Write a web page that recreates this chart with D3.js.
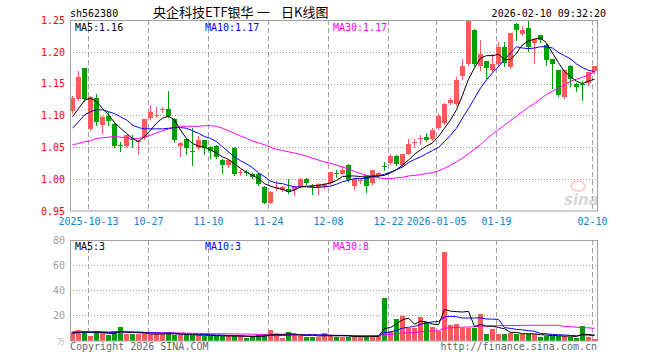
<!DOCTYPE html>
<html>
<head>
<meta charset="utf-8">
<script src="https://cdn.jsdelivr.net/npm/d3@7"></script>
<style>
body{margin:0;background:#fff}
text{font-family:"DejaVu Sans Mono",monospace;font-size:10px}
</style>
</head>
<body>
<svg id="chart" width="660" height="360"></svg>
<script>
// trading days shown (88 candles)
const dates = [
 "2025-09-30","2025-10-09","2025-10-10",
 "2025-10-13","2025-10-14","2025-10-15","2025-10-16","2025-10-17",
 "2025-10-20","2025-10-21","2025-10-22","2025-10-23","2025-10-24",
 "2025-10-27","2025-10-28","2025-10-29","2025-10-30","2025-10-31",
 "2025-11-03","2025-11-04","2025-11-05","2025-11-06","2025-11-07",
 "2025-11-10","2025-11-11","2025-11-12","2025-11-13","2025-11-14",
 "2025-11-17","2025-11-18","2025-11-19","2025-11-20","2025-11-21",
 "2025-11-24","2025-11-25","2025-11-26","2025-11-27","2025-11-28",
 "2025-12-01","2025-12-02","2025-12-03","2025-12-04","2025-12-05",
 "2025-12-08","2025-12-09","2025-12-10","2025-12-11","2025-12-12",
 "2025-12-15","2025-12-16","2025-12-17","2025-12-18","2025-12-19",
 "2025-12-22","2025-12-23","2025-12-24","2025-12-25","2025-12-26",
 "2025-12-29","2025-12-30","2025-12-31",
 "2026-01-05","2026-01-06","2026-01-07","2026-01-08","2026-01-09",
 "2026-01-12","2026-01-13","2026-01-14","2026-01-15","2026-01-16",
 "2026-01-19","2026-01-20","2026-01-21","2026-01-22","2026-01-23",
 "2026-01-26","2026-01-27","2026-01-28","2026-01-29","2026-01-30",
 "2026-02-02","2026-02-03","2026-02-04","2026-02-05","2026-02-06",
 "2026-02-09","2026-02-10"
];

const open = [
 1.106,1.126,1.174,1.079,1.127,1.085,1.099,1.087,1.053,1.052,
 1.063,1.058,1.064,1.096,1.099,1.109,1.110,1.094,1.052,1.063,
 1.045,1.049,1.061,1.051,1.052,1.030,1.022,1.049,1.010,1.011,
 1.008,1.008,0.988,0.963,0.987,0.983,0.985,0.983,0.988,1.001,
 0.991,0.989,0.988,0.993,1.010,1.009,1.023,0.990,0.997,1.006,
 0.994,1.005,1.021,1.025,1.037,1.022,1.041,1.058,1.062,1.066,
 1.063,1.080,1.088,1.119,1.118,1.163,1.181,1.234,1.177,1.185,
 1.172,1.181,1.207,1.176,1.243,1.227,1.238,1.213,1.226,1.211,
 1.188,1.171,1.129,1.178,1.150,1.149,1.150,1.169
];
const high = [
 1.131,1.170,1.174,1.131,1.134,1.099,1.106,1.089,1.059,1.070,
 1.069,1.062,1.095,1.117,1.114,1.114,1.139,1.096,1.058,1.064,
 1.080,1.068,1.062,1.052,1.053,1.031,1.031,1.050,1.015,1.014,
 1.009,1.010,0.989,0.981,0.997,0.990,1.001,0.989,1.002,1.002,
 0.993,0.994,0.994,1.012,1.015,1.020,1.024,1.002,1.001,1.007,
 1.015,1.012,1.027,1.040,1.038,1.040,1.063,1.063,1.069,1.073,
 1.081,1.102,1.119,1.127,1.160,1.189,1.251,1.236,1.218,1.186,
 1.196,1.215,1.215,1.230,1.246,1.240,1.250,1.221,1.227,1.212,
 1.189,1.172,1.172,1.179,1.151,1.154,1.169,1.178
];
const low = [
 1.104,1.124,1.123,1.077,1.085,1.072,1.085,1.050,1.045,1.050,
 1.050,1.040,1.063,1.095,1.098,1.106,1.098,1.059,1.036,1.040,
 1.022,1.047,1.040,1.033,1.033,1.010,1.019,1.006,1.006,1.006,
 1.002,0.991,0.962,0.962,0.983,0.981,0.978,0.975,0.987,0.992,
 0.977,0.976,0.986,0.992,1.004,1.008,0.997,0.985,0.994,0.980,
 0.993,1.003,1.014,1.024,1.022,1.021,1.039,1.051,1.056,1.060,
 1.062,1.079,1.087,1.118,1.117,1.157,1.180,1.177,1.172,1.159,
 1.169,1.180,1.177,1.175,1.219,1.226,1.201,1.182,1.216,1.180,
 1.143,1.130,1.128,1.146,1.138,1.124,1.148,1.167
];
const close = [
 1.127,1.161,1.125,1.129,1.089,1.098,1.091,1.052,1.051,1.069,
 1.061,1.060,1.094,1.106,1.100,1.110,1.099,1.061,1.057,1.049,
 1.044,1.061,1.048,1.045,1.035,1.022,1.030,1.008,1.011,1.010,
 1.004,0.993,0.963,0.980,0.988,0.987,0.980,0.988,1.001,0.994,
 0.990,0.993,0.993,1.011,1.009,1.015,0.999,1.001,0.998,0.988,
 1.014,1.010,1.020,1.036,1.024,1.039,1.056,1.059,1.064,1.062,
 1.077,1.099,1.118,1.124,1.156,1.178,1.250,1.180,1.196,1.174,
 1.181,1.207,1.182,1.229,1.234,1.234,1.208,1.220,1.218,1.188,
 1.180,1.131,1.171,1.157,1.146,1.148,1.168,1.177
];

const ma5 = [
 1.098,1.111,1.124,1.127,1.122,1.111,1.101,1.089,1.080,1.072,
 1.064,1.059,1.067,1.077,1.088,1.096,1.099,1.093,1.077,1.064,
 1.056,1.052,1.050,1.046,1.041,1.035,1.031,1.024,1.017,1.011,
 1.006,1.001,0.993,0.989,0.986,0.984,0.980,0.983,0.988,0.989,
 0.989,0.990,0.992,0.994,0.998,1.004,1.005,1.005,1.004,1.003,
 1.005,1.005,1.006,1.010,1.015,1.022,1.030,1.039,1.046,1.052,
 1.057,1.067,1.080,1.093,1.109,1.132,1.157,1.175,1.190,1.194,
 1.194,1.196,1.188,1.188,1.198,1.211,1.217,1.220,1.222,1.214,
 1.198,1.183,1.169,1.161,1.154,1.150,1.154,1.157
];
const ma10 = [
 1.080,1.090,1.101,1.106,1.109,1.109,1.106,1.103,1.098,1.093,
 1.085,1.081,1.079,1.079,1.079,1.079,1.080,1.081,1.081,1.080,
 1.076,1.072,1.067,1.064,1.059,1.051,1.043,1.035,1.029,1.024,
 1.018,1.010,1.004,0.997,0.994,0.993,0.990,0.988,0.988,0.988,
 0.987,0.987,0.988,0.989,0.992,0.996,0.998,1.001,1.001,1.001,
 1.004,1.005,1.008,1.011,1.015,1.019,1.026,1.031,1.035,1.040,
 1.045,1.050,1.059,1.069,1.080,1.096,1.111,1.127,1.143,1.156,
 1.167,1.177,1.188,1.198,1.208,1.206,1.205,1.206,1.208,1.208,
 1.206,1.199,1.194,1.189,1.181,1.175,1.171,1.169
];
const ma30 = [
 1.054,1.056,1.059,1.060,1.064,1.065,1.066,1.067,1.066,1.065,
 1.064,1.064,1.066,1.069,1.073,1.076,1.079,1.081,1.083,1.083,
 1.083,1.083,1.084,1.084,1.083,1.080,1.076,1.072,1.068,1.064,
 1.060,1.057,1.054,1.050,1.047,1.045,1.043,1.041,1.039,1.036,
 1.033,1.030,1.027,1.025,1.022,1.019,1.016,1.012,1.009,1.006,
 1.004,1.002,1.001,1.001,1.002,1.003,1.005,1.006,1.007,1.009,
 1.010,1.013,1.017,1.022,1.027,1.033,1.040,1.047,1.054,1.063,
 1.071,1.078,1.085,1.092,1.099,1.106,1.113,1.119,1.126,1.133,
 1.138,1.143,1.148,1.154,1.157,1.160,1.164,1.168
];

// volume, 万
const vol = [
 6.7,8.0,6.7,3.5,7.2,5.3,4.0,7.2,10.4,4.8,
 4.8,4.5,5.3,4.8,4.8,4.8,5.9,4.0,4.0,4.0,
 4.0,4.0,3.2,3.2,3.2,3.2,3.2,3.2,3.2,1.9,
 2.4,4.0,4.5,8.0,4.5,1.3,6.4,4.5,3.5,2.7,
 2.7,2.7,5.6,3.2,2.7,2.7,2.7,2.7,3.2,2.4,
 3.2,3.2,33.9,7.2,16.8,19.5,9.9,9.9,18.7,14.7,
 10.7,7.2,70.7,12.0,12.8,9.3,9.9,9.9,20.8,5.1,
 9.1,5.1,5.1,5.9,5.1,4.5,4.5,4.5,2.7,3.2,
 3.2,3.2,3.2,2.7,1.9,11.5,2.7,0.5
];
const vma5 = [
 5.5,6.0,6.5,6.3,6.4,6.1,5.3,5.4,6.8,6.3,
 6.2,6.3,6.0,4.8,4.8,4.8,5.1,4.9,4.7,4.5,
 4.4,4.0,3.8,3.7,3.5,3.4,3.2,3.2,3.2,2.9,
 2.8,2.9,3.2,4.2,4.7,4.5,4.9,4.9,4.0,3.7,
 4.0,3.2,3.4,3.4,3.4,3.4,3.4,2.8,2.8,2.7,
 2.8,2.9,9.2,10.0,12.9,16.1,17.5,12.7,15.0,14.5,
 12.8,12.2,24.4,23.1,22.7,22.4,22.9,10.8,12.5,11.0,
 11.0,10.0,9.0,6.1,6.1,5.1,5.0,4.9,4.3,3.9,
 3.6,3.4,3.1,3.1,2.8,4.5,4.4,3.9
];
const vma10 = [
 5.8,6.0,6.1,6.0,6.2,6.2,6.0,6.1,6.6,6.4,
 6.2,5.8,5.7,5.8,5.6,5.5,5.7,5.4,4.8,4.7,
 4.6,4.6,4.4,4.2,4.0,3.9,3.6,3.5,3.4,3.2,
 3.1,3.1,3.2,3.7,3.8,3.6,3.9,4.1,4.1,4.2,
 4.2,4.1,4.2,3.7,3.5,3.7,3.3,3.1,3.1,3.1,
 3.1,3.2,6.0,6.4,7.8,9.5,10.2,10.9,12.5,13.7,
 14.5,14.9,18.5,19.0,18.6,17.6,17.6,17.6,17.8,16.8,
 16.7,16.5,9.9,9.3,8.5,8.1,7.5,7.0,5.2,5.0,
 4.4,4.2,4.0,3.7,3.4,4.1,3.9,3.5
];
const vma30 = [
 6.8,6.8,6.8,6.7,6.7,6.6,6.5,6.5,6.5,6.4,
 6.3,6.2,6.1,6.0,5.9,5.8,5.8,5.7,5.6,5.5,
 5.4,5.3,5.2,5.1,5.0,5.0,4.9,4.9,4.8,4.8,
 4.6,4.5,4.4,4.6,4.5,4.3,4.4,4.3,4.1,4.0,
 4.0,3.9,3.9,3.9,3.8,3.7,3.6,3.6,3.5,3.5,
 3.5,3.4,4.5,4.6,5.0,5.6,5.8,6.0,6.6,7.0,
 7.3,7.4,9.6,9.7,10.0,10.2,10.4,10.5,11.1,11.2,
 11.4,11.5,11.5,11.6,11.6,11.7,11.8,11.8,11.8,11.8,
 11.8,11.8,10.8,10.7,10.2,9.9,9.7,9.3
];

const tickDates = ["2025-10-13","2025-10-27","2025-11-10","2025-11-24","2025-12-08",
                   "2025-12-22","2026-01-05","2026-01-19","2026-02-10"];
const tickText = ["2025-10-13","10-27","11-10","11-24","12-08",
                  "12-22","2026-01-05","01-19","02-10"];
const priceTicks = [0.95,1.00,1.05,1.10,1.15,1.20,1.25];
const volTicks = [20,40,60,80];

const RED = "#ff5a5a", GREEN = "#00a000", FRAME = "#a0a0a0";

const svg = d3.select("#chart");

const left = 70, right = 598;
const x = d3.scaleBand().domain(dates).range([left, right]);
const y = d3.scaleLinear().domain([0.95, 1.25]).range([211, 20]);
const yv = d3.scaleLinear().domain([0, 80]).range([340, 240]);
const cx = d => Math.round(x(d)) + 2.5;
const px = v => Math.round(v) + 0.5;

const idx = d3.range(dates.length);
const isUp = i => close[i] >= open[i];

// header texts
svg.append("text").attr("x", 70).attr("y", 17).text("sh562380");
const cjk = "'Noto Sans CJK SC'";
[["央企科技ETF银华", 153], ["一", 257], ["日K线图", 281]].forEach(([t, tx]) => {
  svg.append("text").attr("x", tx).attr("y", 17)
   .style("font-family", cjk).style("font-size", "13px").text(t);
});
svg.append("text").attr("x", 606).attr("y", 17).attr("text-anchor", "end")
   .text("2026-02-10 09:32:20");

// ---------- price panel ----------
const gPrice = svg.append("g");

// dotted horizontal grid
gPrice.selectAll("line.hg").data(priceTicks.slice(1, -1)).enter().append("line")
   .attr("x1", left).attr("x2", 597)
   .attr("y1", d => px(y(d))).attr("y2", d => px(y(d)))
   .attr("stroke", FRAME).attr("stroke-dasharray", "1,2");

// dashed vertical grid at the date ticks
[[gPrice, 20, 211], [svg, 240, 340]].forEach(([g, t, b]) => {
  g.selectAll(null).data(tickDates).enter().append("line")
   .attr("x1", d => Math.round(x(d)) + 0.5).attr("x2", d => Math.round(x(d)) + 0.5)
   .attr("y1", t).attr("y2", b)
   .attr("stroke", FRAME).attr("stroke-dasharray", "5,3");
});

// candles
svg.append("clipPath").attr("id", "pclip")
   .append("rect").attr("x", left).attr("y", 20).attr("width", 528).attr("height", 191);
const gCandle = gPrice.append("g").attr("clip-path", "url(#pclip)")
   .attr("shape-rendering", "crispEdges");

gCandle.selectAll("line.wick").data(idx).enter().append("line")
   .attr("x1", i => cx(dates[i])).attr("x2", i => cx(dates[i]))
   .attr("y1", i => Math.round(y(high[i]))).attr("y2", i => Math.round(y(low[i])) + 1)
   .attr("stroke", i => isUp(i) ? RED : GREEN);

gCandle.selectAll("rect.body").data(idx).enter().append("rect")
   .attr("x", i => Math.round(x(dates[i])))
   .attr("width", 5)
   .attr("y", i => Math.round(y(Math.max(open[i], close[i]))))
   .attr("height", i => Math.max(1, Math.round(Math.abs(y(open[i]) - y(close[i])))))
   .attr("fill", i => isUp(i) ? RED : GREEN);

// MA lines
const priceLine = arr => d3.line().x((v, i) => cx(dates[i])).y(v => y(v))(arr);
[[ma30, "#ff00ff"], [ma10, "#0000ff"], [ma5, "#000000"]].forEach(([arr, c]) => {
  gPrice.append("path").attr("d", priceLine(arr))
   .attr("fill", "none").attr("stroke", c).attr("stroke-width", 1);
});

// sina mark
const logo = svg.append("g").attr("opacity", 0.5);
logo.append("ellipse").attr("cx", 578).attr("cy", 186).attr("rx", 7).attr("ry", 5)
   .attr("fill", "none").attr("stroke", "#f4a0a0").attr("stroke-width", 2);
logo.append("text").attr("x", 564).attr("y", 205)
   .style("font-family", "'DejaVu Sans'").style("font-size", "15px")
   .style("font-style", "italic").style("font-weight", "bold")
   .attr("fill", "#b0b0b0").text("sina");

// frame
svg.append("rect").attr("x", 70.5).attr("y", 20.5).attr("width", 527).attr("height", 190.5)
   .attr("fill", "none").attr("stroke", FRAME);

// price axis labels
const yAxis = d3.axisLeft(y).tickValues(priceTicks).tickFormat(d3.format(".2f"))
   .tickSize(0).tickPadding(5);
svg.append("g").attr("transform", "translate(70,0)").call(yAxis)
   .call(g => g.select(".domain").remove())
   .call(g => g.selectAll("text").attr("fill", "#ff0000")
      .style("font-family", "'DejaVu Sans Mono'").style("font-size", "10px"));

// date labels
const xAxis = d3.axisBottom(x).tickValues(tickDates)
   .tickFormat(d => tickText[tickDates.indexOf(d)]).tickSize(0).tickPadding(7);
svg.append("g").attr("transform", "translate(0,211)").call(xAxis)
   .call(g => g.select(".domain").remove())
   .call(g => g.selectAll(".tick").attr("transform", d => "translate(" + (Math.round(x(d)) + 0.5) + ",0)"))
   .call(g => g.selectAll("text").attr("fill", "#0a84d0")
      .style("font-family", "'DejaVu Sans Mono'").style("font-size", "10px"));

// MA legends
svg.append("text").attr("x", 75).attr("y", 31).attr("fill", "#000").text("MA5:1.16");
svg.append("text").attr("x", 205).attr("y", 31).attr("fill", "#0000ff").text("MA10:1.17");
svg.append("text").attr("x", 333).attr("y", 31).attr("fill", "#ff00ff").text("MA30:1.17");

// ---------- volume panel ----------
svg.selectAll("line.vg").data(volTicks.slice(0, -1)).enter().append("line")
   .attr("x1", left).attr("x2", 597)
   .attr("y1", d => px(yv(d))).attr("y2", d => px(yv(d)))
   .attr("stroke", FRAME).attr("stroke-dasharray", "1,2");

svg.append("g").attr("shape-rendering", "crispEdges")
   .selectAll("rect").data(idx).enter().append("rect")
   .attr("x", i => Math.round(x(dates[i])))
   .attr("width", 5)
   .attr("y", i => Math.round(yv(vol[i])))
   .attr("height", i => 341 - Math.round(yv(vol[i])))
   .attr("fill", i => isUp(i) ? RED : GREEN);

const volLine = arr => d3.line().x((v, i) => cx(dates[i])).y(v => yv(v))(arr);
[[vma30, "#ff00ff"], [vma10, "#0000ff"], [vma5, "#000000"]].forEach(([arr, c]) => {
  svg.append("path").attr("d", volLine(arr))
   .attr("fill", "none").attr("stroke", c).attr("stroke-width", 1);
});

svg.append("rect").attr("x", 70.5).attr("y", 240.5).attr("width", 527).attr("height", 100.5)
   .attr("fill", "none").attr("stroke", FRAME);

const vAxis = d3.axisLeft(yv).tickValues(volTicks).tickSize(0).tickPadding(5);
svg.append("g").attr("transform", "translate(70,0)").call(vAxis)
   .call(g => g.select(".domain").remove())
   .call(g => g.selectAll("text").attr("fill", "#a0a0a0")
      .style("font-family", "'DejaVu Sans Mono'").style("font-size", "10px"));
svg.append("text").attr("x", 65).attr("y", 344).attr("text-anchor", "end")
   .attr("fill", "#b0b0b0").style("font-size", "8px").text("万");

svg.append("text").attr("x", 75).attr("y", 250).attr("fill", "#000").text("MA5:3");
svg.append("text").attr("x", 205).attr("y", 250).attr("fill", "#0000ff").text("MA10:3");
svg.append("text").attr("x", 333).attr("y", 250).attr("fill", "#ff00ff").text("MA30:8");

svg.append("text").attr("x", 70).attr("y", 350).attr("fill", "#666").text("Copyright 2026 SINA.COM");
svg.append("text").attr("x", 597).attr("y", 350).attr("text-anchor", "end")
   .attr("fill", "#666").text("http://finance.sina.com.cn");
</script>
</body>
</html>
